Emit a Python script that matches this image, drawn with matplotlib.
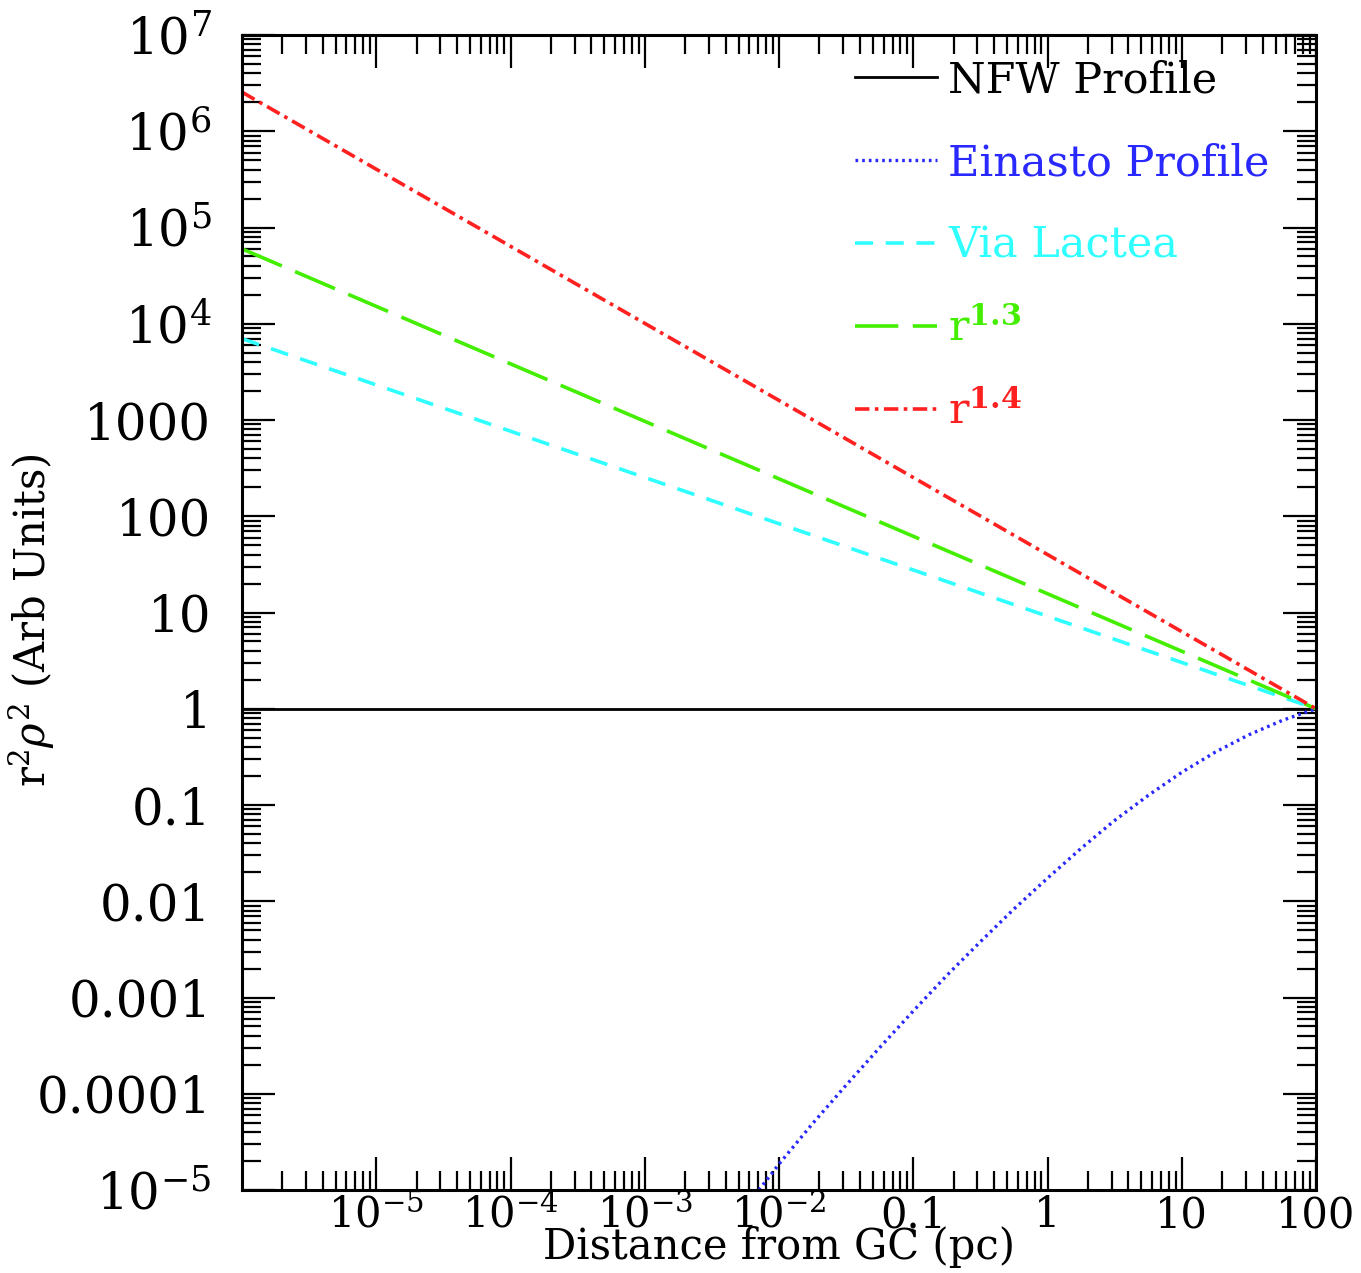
import numpy as np
import matplotlib
matplotlib.use("Agg")
import matplotlib.pyplot as plt
from matplotlib.ticker import FixedLocator, LogLocator, NullFormatter

plt.rcParams['font.family'] = ['DejaVu Serif']
plt.rcParams['mathtext.fontset'] = 'dejavuserif'

# power laws, read at the two ends of the range (pc, arb units)
r_ends = [1e-6, 100.]
via_lactea = [7.0e3, 1.0]
r13 = [6.0e4, 1.0]
r14 = [2.55e6, 1.0]
nfw = [1.0, 1.0]

# Einasto curve (log10 r, log10 r^2 rho^2)
ein_logr = [-2.15, -2.0, -1.75, -1.5, -1.25, -1.0, -0.75, -0.5, -0.25, 0.0,
            0.25, 0.5, 0.75, 1.0, 1.25, 1.5, 1.75, 2.0]
ein_logy = [-5.0, -4.73, -4.31, -3.91, -3.52, -3.14, -2.77, -2.42, -2.08, -1.76,
            -1.45, -1.16, -0.90, -0.66, -0.45, -0.27, -0.12, 0.0]

xtick_vals = [1e-5, 1e-4, 1e-3, 1e-2, 0.1, 1, 10, 100]
xtick_labels = [r'$10^{-5}$', r'$10^{-4}$', r'$10^{-3}$', r'$10^{-2}$',
                '0.1', '1', '10', '100']
ytick_vals = [1e7, 1e6, 1e5, 1e4, 1e3, 100, 10, 1, 0.1, 0.01, 1e-3, 1e-4, 1e-5]
ytick_labels = [r'$10^{7}$', r'$10^{6}$', r'$10^{5}$', r'$10^{4}$', '1000', '100',
                '10', '1', '0.1', '0.01', '0.001', '0.0001', r'$10^{-5}$']

fig = plt.figure(figsize=(13.61, 12.73), dpi=100)
ax = fig.add_axes([0.1778, 0.0652, 0.967 - 0.1778, 0.9725 - 0.0652])

ax.plot(r_ends, nfw, color='black', lw=2.0, label='NFW Profile')
ax.plot(10**np.array(ein_logr), 10**np.array(ein_logy), color='#2828ff', lw=2.4,
        linestyle=(0, (0.8, 1.2)), label='Einasto Profile')
ax.plot(r_ends, via_lactea, color='#30ffff', lw=2.6, linestyle=(0, (5, 3.5)),
        label='Via Lactea')
ax.plot(r_ends, r13, color='#44ee00', lw=2.6, linestyle=(0, (12, 4)),
        label=r'r$^{\mathbf{1.3}}$')
ax.plot(r_ends, r14, color='#ff2020', lw=2.6, linestyle=(0, (4, 1.5, 1, 1.5)),
        label=r'r$^{\mathbf{1.4}}$')

ax.set_xscale('log')
ax.set_yscale('log')
ax.set_xlim(1e-6, 100)
ax.set_ylim(1e-5, 1e7)

ax.xaxis.set_major_locator(FixedLocator(xtick_vals))
ax.set_xticklabels(xtick_labels)
ax.yaxis.set_major_locator(FixedLocator(ytick_vals))
ax.set_yticklabels(ytick_labels)
ax.xaxis.set_minor_locator(LogLocator(base=10, subs=np.arange(2, 10), numticks=100))
ax.yaxis.set_minor_locator(LogLocator(base=10, subs=np.arange(2, 10), numticks=100))
ax.xaxis.set_minor_formatter(NullFormatter())
ax.yaxis.set_minor_formatter(NullFormatter())

ax.tick_params(which='both', direction='in', top=True, right=True, width=1.6,
               colors='black')
ax.tick_params(which='major', length=24)
ax.tick_params(which='minor', length=14)
ax.tick_params(axis='x', which='major', pad=3, labelsize=30)
ax.tick_params(axis='y', which='major', pad=22, labelsize=36)
for s in ax.spines.values():
    s.set_linewidth(2.2)

ax.set_xlabel('Distance from GC (pc)', fontsize=30, va='top')
ax.xaxis.set_label_coords(0.5, -0.0312)
ax.set_ylabel(r'r$^2\rho^2$ (Arb Units)', fontsize=30)
ax.yaxis.set_label_coords(-0.172, 0.4935)

leg = ax.legend(loc='upper left', bbox_to_anchor=(0.555, 0.994), frameon=False,
                fontsize=31, handlelength=1.9, handletextpad=0.25,
                labelspacing=0.95, borderaxespad=0)
for text, line in zip(leg.get_texts(), leg.get_lines()):
    text.set_color(line.get_color())

fig.savefig('out.png', dpi=100)
